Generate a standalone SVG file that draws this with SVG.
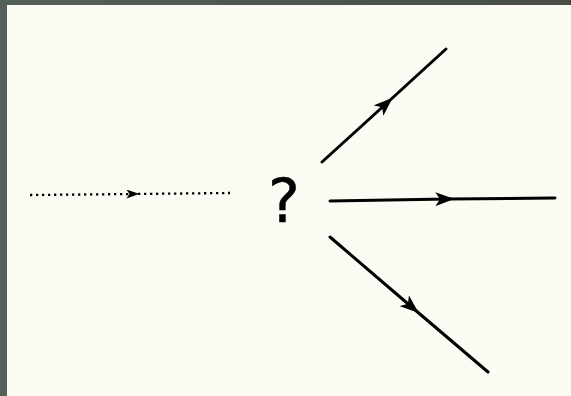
<svg xmlns="http://www.w3.org/2000/svg" width="571" height="396" viewBox="0 0 571 396">
<defs>
<linearGradient id="bg" x1="0" y1="0" x2="1" y2="0">
<stop offset="0" stop-color="#56605a"/><stop offset="0.6" stop-color="#48564c"/><stop offset="1" stop-color="#4a4d46"/>
</linearGradient>
<marker id="ah" viewBox="0 0 12 10" refX="8" refY="5" markerWidth="19" markerHeight="14" markerUnits="userSpaceOnUse" orient="auto" preserveAspectRatio="none">
<path d="M0,0 L12,5 L0,10 L3,5 Z" fill="#000"/>
</marker>
<marker id="ahs" viewBox="0 0 12 10" refX="8" refY="5" markerWidth="13" markerHeight="9" markerUnits="userSpaceOnUse" orient="auto" preserveAspectRatio="none">
<path d="M0,0 L12,5 L0,10 L3,5 Z" fill="#000"/>
</marker>
<style>
.ln{fill:none;stroke:#000;stroke-width:3;stroke-linecap:round;marker-mid:url(#ah)}
.dt{fill:none;stroke:#000;stroke-width:2.3;stroke-dasharray:2.3 3.7;marker-mid:url(#ahs)}
.q{font-family:"DejaVu Sans",sans-serif;font-size:60px;fill:#000;stroke:#000;stroke-width:0.5;stroke-linejoin:round}
</style>
</defs>
<rect width="571" height="396" fill="url(#bg)"/>
<rect x="7" y="5" width="564" height="391" fill="#fbfaf3"/>
<g id="connectors">
<polyline class="dt" points="30,195 135,194 230,193"/>
<polyline class="ln" points="322,162 388,102 446,49"/>
<polyline class="ln" points="330,201 448,199 555,198"/>
<polyline class="ln" points="330,237 414,309 488,372"/>
</g>
<g id="node-q">
<text class="q" x="284" y="222" text-anchor="middle">?</text>
</g>
</svg>
